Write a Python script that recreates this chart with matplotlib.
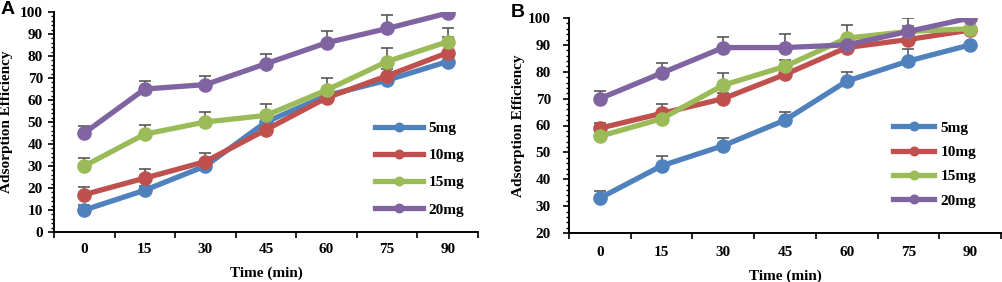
import numpy as np
import matplotlib.pyplot as plt
from matplotlib.ticker import MultipleLocator, FixedLocator

# Dados
times = ["0", "15", "30", "45", "60", "75", "90"]
labels = ["5mg", "10mg", "15mg", "20mg"]
colors = ["#4F81BD", "#C0504D", "#9BBB59", "#8064A2"]

# Painel A
a_5 = [10, 19, 30, 50, 62, 69, 77.5]
a_10 = [17, 24.5, 32, 46.5, 61, 71, 81.5]
a_15 = [30, 44.5, 50, 53, 64.5, 77.5, 86.5]
a_20 = [45, 65, 67, 76.5, 86, 92.5, 99.5]
a_err_5 = [2.5, 2, 2, 3, 3, 3, 3]
a_err_10 = [3.3, 4, 4, 3, 3, 3, 7]
a_err_15 = [3.5, 4, 4.5, 5, 5.3, 6, 6]
a_err_20 = [3, 3.5, 3.7, 4.5, 5.3, 6, 0]

# Painel B
b_5 = [33, 45, 52.5, 62, 76.5, 84, 90]
b_10 = [59, 64.5, 70, 79, 89, 92, 95.5]
b_15 = [56, 62.5, 75, 82, 92.5, 95, 96]
b_20 = [70, 79.5, 89, 89, 90, 95, 100]
b_err_5 = [2.7, 3.6, 2.7, 3, 3.5, 4.4, 0]
b_err_10 = [2.1, 3.4, 2, 2, 2, 2, 0]
b_err_15 = [2, 2, 4.6, 2.5, 5, 2, 0]
b_err_20 = [3, 3.7, 4, 5, 3, 5, 0]

plt.rcParams['font.family'] = ['Liberation Serif', 'DejaVu Serif']
plt.rcParams['font.weight'] = 'bold'
fs = 11

fig = plt.figure(figsize=(10.03, 2.82), dpi=100)
axA = fig.add_axes([54/1003, 50/282, 424/1003, 220/282])
axB = fig.add_axes([569/1003, 49/282, 432/1003, 215/282])


def draw(ax, series, errs, ymin, ypad, xpad, ylab_x, xlab_y, leg_anchor, hlen, lspace):
    x = np.arange(len(times))
    for vals, err, lab, col in zip(series, errs, labels, colors):
        ax.errorbar(x, vals, yerr=[np.zeros(len(err)), err], fmt='none',
                    ecolor='#595959', elinewidth=1.2, capsize=4, capthick=1.2,
                    zorder=1)
        ax.plot(x, vals, color=col, lw=3.8, marker='o', ms=9.5, label=lab,
                zorder=2)
    ax.set_xlim(-0.5, 6.5)
    ax.set_ylim(ymin, 100)
    ax.xaxis.set_major_locator(FixedLocator(x))
    ax.xaxis.set_minor_locator(FixedLocator(np.arange(-0.5, 7, 1)))
    ax.set_xticklabels(times)
    ax.tick_params(axis='x', which='major', length=0, pad=xpad, labelsize=fs)
    ax.tick_params(axis='x', which='minor', length=4, width=1.2, direction='out')
    ax.yaxis.set_major_locator(MultipleLocator(10))
    ax.yaxis.set_minor_locator(MultipleLocator(2))
    ax.tick_params(axis='y', which='major', length=4, width=1.2, pad=ypad, labelsize=fs)
    ax.tick_params(axis='y', which='minor', length=2.5, width=1)
    for s in ['top', 'right']:
        ax.spines[s].set_visible(False)
    for s in ['left', 'bottom']:
        ax.spines[s].set_linewidth(1.4)
    ax.set_ylabel("Adsorption Efficiency", fontsize=fs, fontweight='bold')
    ax.yaxis.set_label_coords(ylab_x, 0.5)
    ax.set_xlabel("Time (min)", fontsize=fs, fontweight='bold')
    ax.xaxis.set_label_coords(0.5, xlab_y)
    ax.legend(loc='upper left', bbox_to_anchor=leg_anchor, frameon=False,
              fontsize=fs, handlelength=hlen, markerscale=0.65,
              labelspacing=lspace, handletextpad=0.4, borderaxespad=0)


draw(axA, [a_5, a_10, a_15, a_20], [a_err_5, a_err_10, a_err_15, a_err_20],
     0, 4, 8, -0.097, -0.155, (0.743, 0.53), 3.1, 0.88)
draw(axB, [b_5, b_10, b_15, b_20], [b_err_5, b_err_10, b_err_15, b_err_20],
     20, 9, 9, -0.102, -0.17, (0.736, 0.55), 2.7, 0.7)

fig.text(1/1003, 1 - 1/282, "A", family='Liberation Sans', fontweight='bold',
         fontsize=14, va='top', ha='left')
fig.text(511/1003, 1 - 4/282, "B", family='Liberation Sans', fontweight='bold',
         fontsize=14, va='top', ha='left')

fig.savefig("out.png", dpi=100)
